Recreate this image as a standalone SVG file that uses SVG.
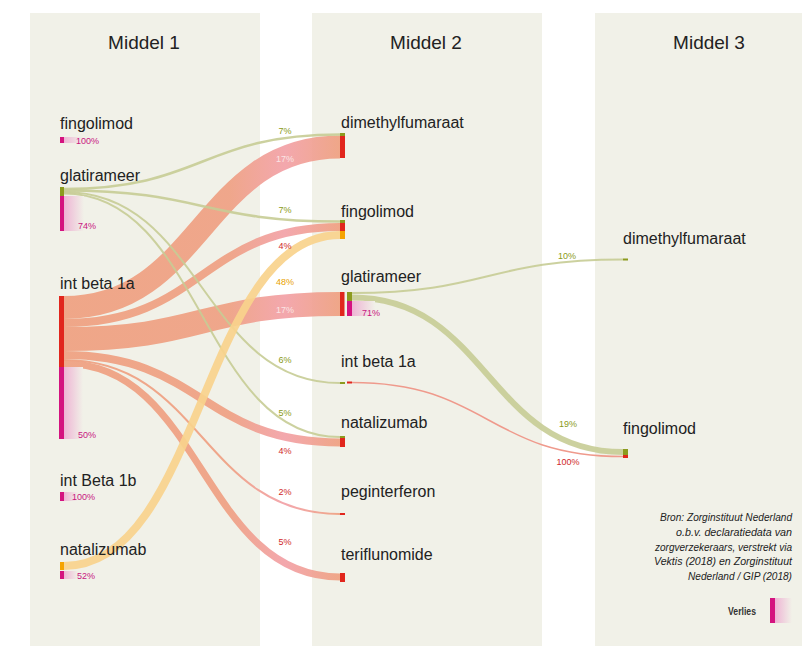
<svg xmlns="http://www.w3.org/2000/svg" width="802" height="646" viewBox="0 0 802 646">
<defs>
<linearGradient id="loss" x1="0" y1="0" x2="1" y2="0">
<stop offset="0" stop-color="#eeb4d4"/>
<stop offset="1" stop-color="#f1f1e8"/>
</linearGradient>
<linearGradient id="salmon" gradientUnits="userSpaceOnUse" x1="64" y1="0" x2="340" y2="0">
<stop offset="0" stop-color="#efa080"/>
<stop offset="0.6" stop-color="#efa083"/>
<stop offset="0.8" stop-color="#f2a0a6"/>
<stop offset="1" stop-color="#efa080"/>
</linearGradient>
<style>
.bg{fill:#f1f1e8}
.hdr{font-family:"Liberation Sans",Arial,sans-serif;font-size:19px;fill:#222;text-anchor:middle}
.lbl{font-family:"Liberation Sans",Arial,sans-serif;font-size:16px;fill:#222}
.pct{font-family:"Liberation Sans",Arial,sans-serif;font-size:9px;text-anchor:middle}
.pl{font-family:"Liberation Sans",Arial,sans-serif;font-size:9px}
.po{fill:#8a9a20}.pr{fill:#d0282a}.py{fill:#e9a200}.pm{fill:#c8167f}.pw{fill:#fbe4e4}
.red{fill:#e1261c}.mag{fill:#d4137f}.olv{fill:#8c9b1e}.org{fill:#f5a300}
.loss{fill:url(#loss)}
.fs{fill:none;stroke:url(#salmon);opacity:0.92}
.fo{fill:none;stroke:#c6cc95;opacity:0.9}
.fy{fill:none;stroke:#f9d38c;opacity:0.92}
.fr{fill:none;stroke:#ef9a8c}
.src{font-family:"Liberation Sans",Arial,sans-serif;font-size:10px;font-style:italic;fill:#222;text-anchor:end}
</style>
</defs>
<rect width="802" height="646" fill="#ffffff"/>
<rect class="bg" x="30" y="13" width="230" height="633"/>
<rect class="bg" x="312" y="13" width="230" height="633"/>
<rect class="bg" x="595" y="13" width="207" height="633"/>
<text class="hdr" x="144" y="49">Middel 1</text>
<text class="hdr" x="426" y="49">Middel 2</text>
<text class="hdr" x="709" y="49">Middel 3</text>

<g id="connectors">
<path class="fs" stroke-width="23" d="M64 307.5 C202 307.5 202 147 340 147"/>
<path class="fs" stroke-width="8" d="M64 323 C202 323 202 227 340 227"/>
<path class="fs" stroke-width="24" d="M64 339 C202 339 202 304 340 304"/>
<path class="fs" stroke-width="8" d="M64 355 C202 355 202 442.5 340 442.5"/>
<path class="fs" stroke-width="2" d="M64 360 C202 360 202 514 340 514"/>
<path class="fs" stroke-width="7" d="M64 363.5 C202 363.5 202 577 340 577"/>
<path class="fo" stroke-width="2.5" d="M64 189 C202 189 202 134.5 340 134.5"/>
<path class="fo" stroke-width="2.5" d="M64 190.5 C202 190.5 202 221.5 340 221.5"/>
<path class="fo" stroke-width="2" d="M64 192 C202 192 202 383 340 383"/>
<path class="fo" stroke-width="2" d="M64 193.5 C202 193.5 202 437 340 437"/>
<path class="fy" stroke-width="8" d="M64 566 C202 566 202 235 340 235"/>
<path class="fo" stroke-width="2" d="M352 293 C487.5 293 487.5 259.5 623 259.5"/>
<path class="fo" stroke-width="6" d="M352 297.5 C487.5 297.5 487.5 452 623 452"/>
<path class="fr" stroke-width="1.5" d="M352 382.5 C487.5 382.5 487.5 456.5 623 456.5"/>
<text class="pct po" x="285" y="134">7%</text>
<text class="pct pw" x="285" y="162">17%</text>
<text class="pct po" x="285" y="213">7%</text>
<text class="pct pr" x="285" y="249">4%</text>
<text class="pct py" x="285" y="285">48%</text>
<text class="pct pw" x="285" y="313">17%</text>
<text class="pct po" x="285" y="363">6%</text>
<text class="pct po" x="285" y="416">5%</text>
<text class="pct pr" x="285" y="454">4%</text>
<text class="pct pr" x="285" y="495">2%</text>
<text class="pct pr" x="285" y="545">5%</text>
<text class="pct po" x="567" y="259">10%</text>
<text class="pct po" x="568" y="427">19%</text>
<text class="pct pr" x="568" y="465">100%</text>
</g>

<g id="m1-fingolimod">
<text class="lbl" x="60" y="129">fingolimod</text>
<rect class="loss" x="63" y="137" width="20" height="6"/>
<rect class="mag" x="60" y="137" width="4" height="6"/>
<text class="pl pm" x="76" y="144">100%</text>
</g>
<g id="m1-glatirameer">
<text class="lbl" x="60" y="181">glatirameer</text>
<rect class="olv" x="60" y="187" width="4" height="9"/>
<rect class="loss" x="64" y="196" width="20" height="35"/>
<rect class="mag" x="60" y="196" width="4" height="35"/>
<text class="pl pm" x="78" y="229">74%</text>
</g>
<g id="m1-intbeta1a">
<text class="lbl" x="60" y="289">int beta 1a</text>
<rect class="red" x="59" y="296" width="5" height="71"/>
<rect class="loss" x="64" y="367" width="19" height="72"/>
<rect class="mag" x="59" y="367" width="5" height="72"/>
<text class="pl pm" x="78" y="438">50%</text>
</g>
<g id="m1-intbeta1b">
<text class="lbl" x="60" y="486">int Beta 1b</text>
<rect class="loss" x="64" y="492" width="14" height="9"/>
<rect class="mag" x="60" y="492" width="4" height="9"/>
<text class="pl pm" x="72" y="500">100%</text>
</g>
<g id="m1-natalizumab">
<text class="lbl" x="60" y="555">natalizumab</text>
<rect class="org" x="60" y="562" width="4" height="8"/>
<rect class="loss" x="64" y="571" width="14" height="8"/>
<rect class="mag" x="60" y="571" width="4" height="8"/>
<text class="pl pm" x="77" y="579">52%</text>
</g>

<g id="m2-dimethylfumaraat">
<text class="lbl" x="341" y="128">dimethylfumaraat</text>
<rect class="olv" x="340" y="133" width="5" height="3"/>
<rect class="red" x="340" y="136" width="5" height="22"/>
</g>
<g id="m2-fingolimod">
<text class="lbl" x="341" y="217">fingolimod</text>
<rect class="olv" x="340" y="220" width="5" height="3"/>
<rect class="red" x="340" y="223" width="5" height="8"/>
<rect class="org" x="340" y="231" width="5" height="8"/>
</g>
<g id="m2-glatirameer">
<text class="lbl" x="341" y="282">glatirameer</text>
<rect class="red" x="340" y="292" width="4.5" height="24"/>
<rect class="olv" x="347" y="292" width="5" height="9"/>
<rect class="loss" x="352" y="301" width="23" height="15"/>
<rect class="mag" x="347" y="301" width="5" height="15"/>
<text class="pl pm" x="362" y="316">71%</text>
</g>
<g id="m2-intbeta1a">
<text class="lbl" x="341" y="367">int beta 1a</text>
<rect class="olv" x="340" y="382" width="5" height="2"/>
<rect class="red" x="347" y="381.5" width="5" height="2"/>
</g>
<g id="m2-natalizumab">
<text class="lbl" x="341" y="428">natalizumab</text>
<rect class="olv" x="340" y="436" width="5" height="2"/>
<rect class="red" x="340" y="438" width="5" height="9"/>
</g>
<g id="m2-peginterferon">
<text class="lbl" x="341" y="497">peginterferon</text>
<rect class="red" x="340" y="513" width="5" height="2"/>
</g>
<g id="m2-teriflunomide">
<text class="lbl" x="341" y="560">teriflunomide</text>
<rect class="red" x="340" y="573" width="5" height="9"/>
</g>

<g id="m3-dimethylfumaraat">
<text class="lbl" x="623" y="244">dimethylfumaraat</text>
<rect class="olv" x="623" y="258.5" width="5" height="2"/>
</g>
<g id="m3-fingolimod">
<text class="lbl" x="623" y="434">fingolimod</text>
<rect class="olv" x="623" y="449" width="5" height="6"/>
<rect class="red" x="623" y="455" width="5" height="3"/>
</g>

<g id="source">
<text class="src" x="792" y="521" textLength="132" lengthAdjust="spacingAndGlyphs">Bron: Zorginstituut Nederland</text>
<text class="src" x="792" y="536" textLength="116" lengthAdjust="spacingAndGlyphs">o.b.v. declaratiedata van</text>
<text class="src" x="792" y="551" textLength="137" lengthAdjust="spacingAndGlyphs">zorgverzekeraars, verstrekt via</text>
<text class="src" x="792" y="565" textLength="138" lengthAdjust="spacingAndGlyphs">Vektis (2018) en Zorginstituut</text>
<text class="src" x="792" y="580" textLength="104" lengthAdjust="spacingAndGlyphs">Nederland / GIP (2018)</text>
</g>
<g id="legend">
<text x="756" y="615" font-family="Liberation Sans, Arial, sans-serif" font-size="10.5" font-weight="bold" fill="#333" text-anchor="end" textLength="28" lengthAdjust="spacingAndGlyphs">Verlies</text>
<rect class="loss" x="775" y="598" width="17" height="25"/>
<rect class="mag" x="770" y="598" width="5" height="25"/>
</g>
</svg>
